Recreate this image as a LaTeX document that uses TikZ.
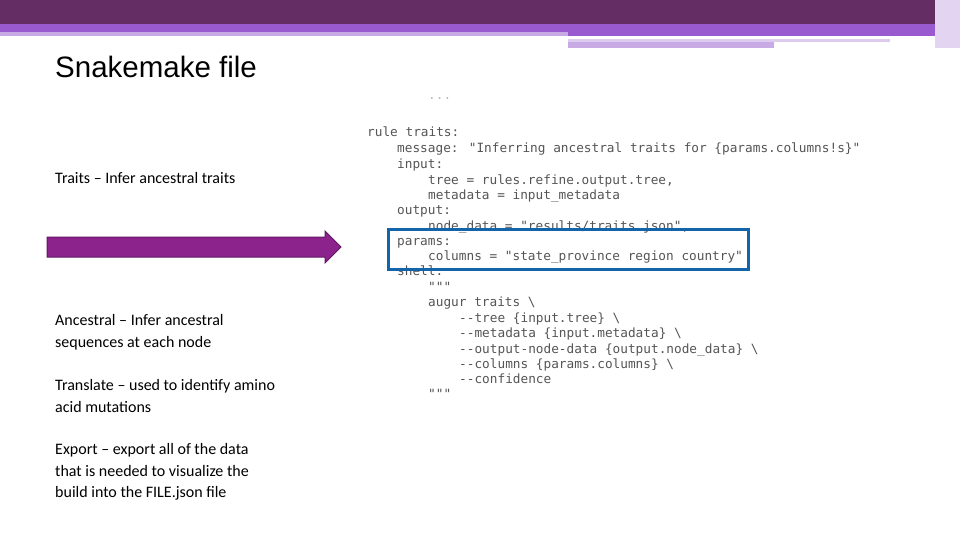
\documentclass[tikz,border=0pt]{standalone}
\usepackage{fontspec}
\setmainfont{Carlito}
\newfontfamily\titlefont{Liberation Sans}
\newfontfamily\codefont{DejaVu Sans Mono}
\definecolor{plumdark}{RGB}{100,45,100}
\definecolor{plummid}{RGB}{154,90,207}
\definecolor{plumlight}{RGB}{200,170,228}
\definecolor{arrowfill}{RGB}{140,35,140}
\definecolor{boxblue}{RGB}{20,100,170}
\definecolor{codegray}{RGB}{85,85,85}
\tikzset{code/.style={anchor=base west, inner sep=0pt, text=codegray,
    font=\codefont\fontsize{12.75}{15}\selectfont}}
\tikzset{body/.style={anchor=north west, inner sep=0pt, align=left,
    font=\fontsize{16}{21.7}\selectfont}}
\begin{document}
\begin{tikzpicture}[x=1pt, y=-1pt]
    \useasboundingbox (0,0) rectangle (960,540);

    %%%% Header bars
    \fill[plummid] (0,24) rectangle (960,36);
    \fill[plumlight] (0,32) rectangle (568,36);
    \fill[plumdark] (0,0) rectangle (960,24);
    \fill[plumlight!60] (568,39) rectangle (890,42);
    \fill[plumlight] (568,42) rectangle (774,48);
    \fill[plumlight!50] (935,0) rectangle (960,48);

    %%%% Title and notes
    \node[anchor=base west, inner sep=0pt, font=\titlefont\fontsize{29.5}{34}\selectfont]
        (title) at (55,78) {Snakemake file};
    \node[body] (traits) at (55,172) {Traits -- Infer ancestral traits};
    \node[body] (ancestral) at (55,314) {Ancestral -- Infer ancestral\\sequences at each node};
    \node[body] (translate) at (55,379) {Translate -- used to identify amino\\acid mutations};
    \node[body] (export) at (55,443) {Export -- export all of the data\\that is needed to visualize the\\build into the FILE.json file};

    %%%% Arrow
    \draw[draw=arrowfill!70!black, fill=arrowfill, line width=1pt]
        (47,237) -- (325,237) -- (325,231) -- (341,247) -- (325,263)
        -- (325,257) -- (47,257) -- cycle;

    %%%% Code
    \node[code, text=codegray!40] (dots) at (428,100) {...};
    \node[code] (l1) at (367,137) {rule traits:};
    \node[code] (l2) at (397,153) {message: "Inferring ancestral traits for \{params.columns!s\}"};
    \node[code] (l3) at (397,168) {input:};
    \node[code] (l4) at (428,184) {tree = rules.refine.output.tree,};
    \node[code] (l5) at (428,199) {metadata = input\_metadata};
    \node[code] (l6) at (397,214) {output:};
    \node[code] (l7) at (428,230) {node\_data = "results/traits.json",};
    \node[code] (l8) at (397,245) {params:};
    \node[code] (l9) at (428,260) {columns = "state\_province region country"};
    \node[code] (l10) at (397,275) {shell:};
    \node[code] (l11) at (428,291) {"""};
    \node[code] (l12) at (428,306) {augur traits \textbackslash};
    \node[code] (l13) at (459,322) {-{}-tree \{input.tree\} \textbackslash};
    \node[code] (l14) at (459,337) {-{}-metadata \{input.metadata\} \textbackslash};
    \node[code] (l15) at (459,353) {-{}-output-node-data \{output.node\_data\} \textbackslash};
    \node[code] (l16) at (459,368) {-{}-columns \{params.columns\} \textbackslash};
    \node[code] (l17) at (459,383) {-{}-confidence};
    \node[code] (l18) at (428,398) {"""};

    %%%% Highlight box
    \draw[boxblue, line width=3pt] (388,229) rectangle (748,269);
\end{tikzpicture}
\end{document}
